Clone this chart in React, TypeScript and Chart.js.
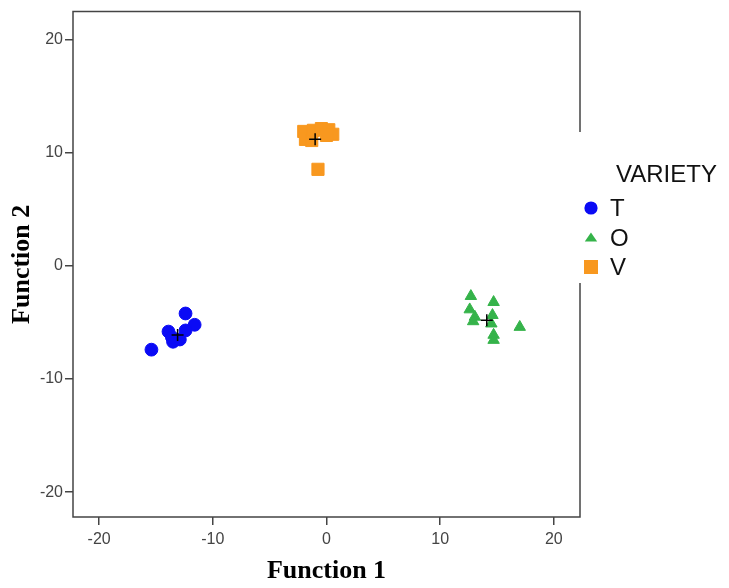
import React, { useEffect, useRef } from "react";
import { Chart, registerables } from "chart.js";

Chart.register(...registerables);

// ---- data ----
const groupLabels = ["T", "O", "V"];
const groupColors = ["#0a0af5", "#35b34a", "#f8981f"];
const groupStyles = ["circle", "triangle", "rect"];

const tX = [-15.4, -12.4, -11.6, -13.9, -13.5, -12.9, -12.4, -13.6];
const tY = [-7.4, -4.2, -5.2, -5.8, -6.7, -6.5, -5.7, -6.3];

const oX = [12.7, 14.7, 12.6, 13.05, 12.9, 14.6, 14.5, 14.7, 14.7, 17.0];
const oY = [-2.67, -3.2, -3.85, -4.5, -4.9, -4.35, -5.1, -6.1, -6.55, -5.4];

const vX = [-2.0, -1.85, -1.3, -1.15, -0.45, 0.2, 0.55, 0.0, -0.75];
const vY = [11.9, 11.2, 11.1, 12.0, 12.15, 12.05, 11.65, 11.55, 8.55];

const centroidX = [-13.1, 14.1, -1.0];
const centroidY = [-6.1, -4.8, 11.2];

const xTicks = [-20, -10, 0, 10, 20];
const yTicks = [-20, -10, 0, 10, 20];
const xRange = [-22.3, 22.3];
const yRange = [-22.2, 22.5];

const legendTitle = "VARIETY";
const xTitle = "Function 1";
const yTitle = "Function 2";

const toPts = (xs: number[], ys: number[]) => xs.map((x, i) => ({ x, y: ys[i] }));

const frameLegendPlugin = {
  id: "frameLegend",
  afterDraw(chart: any) {
    const { ctx, chartArea } = chart;
    const { left, right, top, bottom } = chartArea;
    ctx.save();
    ctx.strokeStyle = "#444";
    ctx.lineWidth = 1.5;
    ctx.beginPath();
    ctx.moveTo(right, 132);
    ctx.lineTo(right, top);
    ctx.lineTo(left, top);
    ctx.lineTo(left, bottom);
    ctx.lineTo(right, bottom);
    ctx.lineTo(right, 283);
    ctx.stroke();

    // legend
    ctx.fillStyle = "#111";
    ctx.font = "24px 'Liberation Sans', Arial, sans-serif";
    ctx.textBaseline = "alphabetic";
    ctx.textAlign = "left";
    ctx.fillText(legendTitle, 616, 181.5);
    const rows = [208, 237.5, 267];
    const mx = 591;
    groupLabels.forEach((lab, i) => {
      const y = rows[i];
      ctx.fillStyle = groupColors[i];
      ctx.beginPath();
      if (groupStyles[i] === "circle") {
        ctx.arc(mx, y, 6.6, 0, Math.PI * 2);
      } else if (groupStyles[i] === "triangle") {
        ctx.moveTo(mx, y - 5);
        ctx.lineTo(mx + 6.2, y + 4);
        ctx.lineTo(mx - 6.2, y + 4);
        ctx.closePath();
      } else {
        ctx.rect(mx - 7, y - 7, 14, 14);
      }
      ctx.fill();
      ctx.fillStyle = "#111";
      ctx.textBaseline = "middle";
      ctx.fillText(lab, 610, y + 1.5);
    });
    ctx.restore();
  },
};

export default function App() {
  const ref = useRef<HTMLCanvasElement | null>(null);
  useEffect(() => {
    if (!ref.current) return;
    const datasets: any[] = [
      {
        label: "Group Centroid",
        data: toPts(centroidX, centroidY),
        pointStyle: "cross",
        pointRadius: 6,
        borderColor: "#000",
        backgroundColor: "#000",
        borderWidth: 1.5,
        order: 0,
      },
      ...groupLabels.map((lab, i) => ({
        label: lab,
        data: [toPts(tX, tY), toPts(oX, oY), toPts(vX, vY)][i],
        pointStyle: groupStyles[i],
        pointRadius: [6.4, 6.6, 8.6][i],
        backgroundColor: groupColors[i],
        borderColor: groupColors[i],
        borderWidth: 1,
        order: 1,
      })),
    ];
    const tickFont = { family: "'Liberation Sans', Arial, sans-serif", size: 16 };
    const titleFont = { family: "'Liberation Serif', 'Times New Roman', serif", size: 26, weight: "bold" as const, lineHeight: 1.2 };
    const chart = new Chart(ref.current, {
      type: "scatter",
      data: { datasets },
      options: {
        animation: false,
        responsive: true,
        maintainAspectRatio: false,
        layout: { padding: { left: 0, top: 11, right: 149, bottom: 0 } },
        plugins: { legend: { display: false }, tooltip: { enabled: false } },
        scales: {
          x: {
            type: "linear",
            min: xRange[0],
            max: xRange[1],
            afterBuildTicks: (s: any) => {
              s.ticks = xTicks.map((v) => ({ value: v }));
            },
            afterFit: (s: any) => {
              s.height = 71;
            },
            grid: { drawOnChartArea: false, drawTicks: true, tickLength: 8, color: "#444", lineWidth: 1.5 },
            border: { display: false },
            ticks: { color: "#444", font: tickFont, padding: 5, maxRotation: 0 },
            title: { display: true, text: xTitle, color: "#000", font: titleFont, padding: { top: 0, bottom: 1 } },
          },
          y: {
            type: "linear",
            min: yRange[0],
            max: yRange[1],
            afterBuildTicks: (s: any) => {
              s.ticks = yTicks.map((v) => ({ value: v }));
            },
            afterFit: (s: any) => {
              s.width = 73;
            },
            grid: { drawOnChartArea: false, drawTicks: true, tickLength: 8, color: "#444", lineWidth: 1.5 },
            border: { display: false },
            ticks: { color: "#444", font: tickFont, padding: 2 },
            title: { display: true, text: yTitle, color: "#000", font: titleFont, padding: { top: 7, bottom: 0 } },
          },
        },
      },
      plugins: [frameLegendPlugin],
    } as any);
    return () => chart.destroy();
  }, []);
  return (
    <div style={{ position: "fixed", left: 0, top: 0, width: 729, height: 588, background: "#fff" }}>
      <canvas ref={ref} />
    </div>
  );
}
